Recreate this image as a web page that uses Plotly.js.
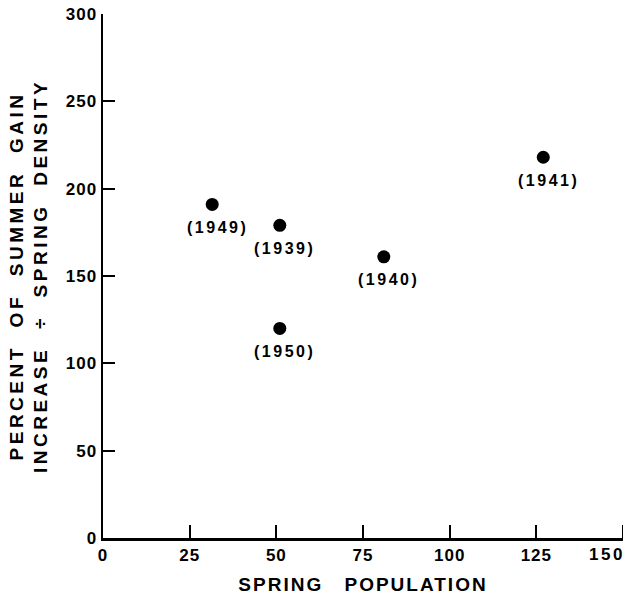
<!DOCTYPE html>
<html>
<head>
<meta charset="utf-8">
<script src="https://cdn.plot.ly/plotly-3.0.1.min.js"></script>
<style>
  html, body { margin: 0; padding: 0; background: #fff; }
  #chart { width: 627px; height: 595px; }
  .xtitle { letter-spacing: 2px; word-spacing: 14px; }
  .ytitle { letter-spacing: 3.5px; word-spacing: 9px; }
  .xtick text, .ytick text { letter-spacing: 1px; }
  .annotation-text { letter-spacing: 2.5px; }
</style>
</head>
<body>
<div id="chart"></div>
<script>
// Data
const springPopulation = [31.5, 51, 51, 81, 127];
const percentGain = [191, 179, 120, 161, 218];
const yearLabels = ['(1949)', '(1939)', '(1950)', '(1940)', '(1941)'];

const xTickVals = [0, 25, 50, 75, 100, 125, 150];
const yTickVals = [0, 50, 100, 150, 200, 250, 300];

const fontFamily = '"Liberation Sans", Arial, sans-serif';
const tickFont = { family: fontFamily, size: 17, color: '#000', weight: 700 };

const trace = {
  type: 'scatter',
  mode: 'markers',
  x: springPopulation,
  y: percentGain,
  marker: { color: '#000', size: 13 },
  cliponaxis: false,
  hoverinfo: 'skip'
};

// Year labels under each point
const yearAnnotations = springPopulation.map((x, i) => ({
  x: x,
  y: percentGain[i],
  xref: 'x',
  yref: 'y',
  text: yearLabels[i],
  showarrow: false,
  xanchor: 'center',
  yanchor: 'middle',
  xshift: 5,
  yshift: -23,
  font: { family: fontFamily, size: 16, color: '#000', weight: 700 }
}));

// Last x tick label, drawn flush with the right edge as in the reference
const lastTickIndex = xTickVals.length - 1;
const edgeLabel = {
  x: xTickVals[lastTickIndex],
  y: 0,
  xref: 'x',
  yref: 'paper',
  text: String(xTickVals[lastTickIndex]),
  showarrow: false,
  xanchor: 'right',
  yanchor: 'top',
  xshift: 4,
  yshift: -5,
  font: tickFont
};

const layout = {
  width: 627,
  height: 595,
  margin: { l: 103, r: 4, t: 14, b: 57 },
  paper_bgcolor: '#fff',
  plot_bgcolor: '#fff',
  showlegend: false,
  font: { family: fontFamily, size: 15, color: '#000' },
  xaxis: {
    range: [0, 150],
    tickvals: xTickVals.slice(0, lastTickIndex),
    ticktext: xTickVals.slice(0, lastTickIndex).map(String),
    ticks: 'inside',
    ticklen: 13,
    tickwidth: 2,
    tickcolor: '#000',
    showline: true,
    linecolor: '#000',
    linewidth: 2.5,
    showgrid: false,
    zeroline: false,
    tickfont: tickFont,
    title: { text: 'SPRING POPULATION', standoff: 14, font: { family: fontFamily, size: 19, color: '#000', weight: 700 } }
  },
  yaxis: {
    range: [0, 300],
    tickvals: yTickVals,
    ticktext: yTickVals.map(String),
    ticks: 'inside',
    ticklen: 12,
    tickwidth: 2,
    tickcolor: '#000',
    showline: true,
    linecolor: '#000',
    linewidth: 2.5,
    showgrid: false,
    zeroline: false,
    tickfont: tickFont,
    title: { text: 'PERCENT OF SUMMER GAIN<br>INCREASE ÷ SPRING DENSITY', standoff: 13, font: { family: fontFamily, size: 19, color: '#000', weight: 700 } }
  },
  shapes: [{
    type: 'line', xref: 'x', yref: 'paper',
    x0: xTickVals[lastTickIndex], x1: xTickVals[lastTickIndex], y0: 0, y1: 0.025,
    line: { color: '#000', width: 2 }
  }],
  annotations: yearAnnotations.concat([edgeLabel])
};

Plotly.newPlot('chart', [trace], layout, { staticPlot: true, displayModeBar: false });
</script>
</body>
</html>
